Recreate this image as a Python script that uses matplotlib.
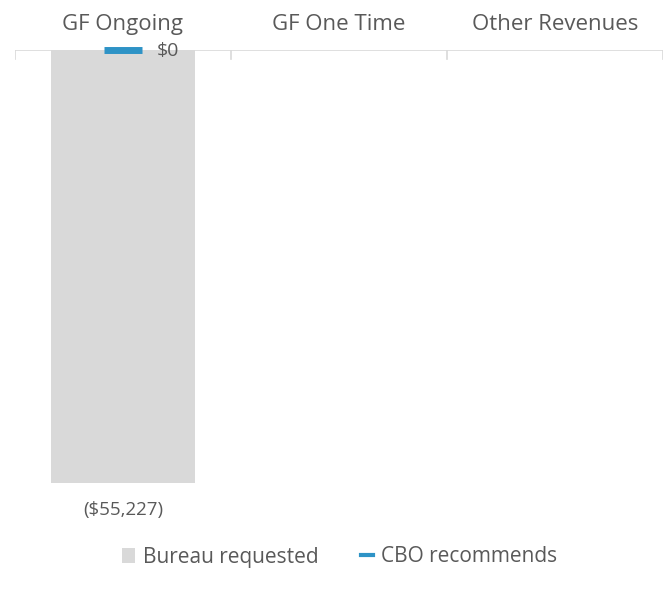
import numpy as np
import matplotlib.pyplot as plt
from matplotlib.lines import Line2D
from matplotlib.patches import Patch

categories = ["GF Ongoing", "GF One Time", "Other Revenues"]
bureau_requested = [-55227, 0, 0]
cbo_recommends = [0, None, None]
bureau_labels = ["($55,227)", "", ""]
cbo_labels = ["$0", "", ""]

grey = "#d9d9d9"
blue = "#2e93c6"
text_col = "#595959"
plt.rcParams["font.family"] = ["Open Sans", "DejaVu Sans"]

fig = plt.figure(figsize=(6.68, 6.13), dpi=100)
ax = fig.add_axes([15 / 668, 1 - 520 / 613, 648 / 668, 470 / 613])

x = np.arange(len(categories))
ax.bar(x, bureau_requested, width=0.67, color=grey, zorder=1)

# CBO recommends: short dash markers
for i, v in enumerate(cbo_recommends):
    if v is None:
        continue
    ax.plot([i - 0.09, i + 0.09], [v, v], color=blue, lw=5, solid_capstyle="butt",
            zorder=3, clip_on=False)
    ax.text(i + 0.155, v - 100, cbo_labels[i], color=text_col, fontsize=14, va="center", ha="left")

for i, v in enumerate(bureau_requested):
    if bureau_labels[i]:
        ax.text(i, v - 2400, bureau_labels[i], color=text_col, fontsize=13.5, va="top", ha="center")

ax.set_xlim(-0.5, len(categories) - 0.5)
ax.set_ylim(-60000, 0)

# axis line along zero at the top, with category dividers
ax.axhline(0, color=grey, lw=1.2, zorder=2)
for b in np.arange(-0.5, len(categories), 1.0):
    ax.plot([b, b], [0, -1100], color=grey, lw=1.2, zorder=2)

for sp in ax.spines.values():
    sp.set_visible(False)
ax.set_yticks([])
ax.xaxis.tick_top()
ax.set_xticks(x)
ax.set_xticklabels(categories, fontsize=16, color=text_col)
ax.tick_params(axis="x", length=0, pad=11)

handles = [Patch(facecolor=grey, edgecolor="none", label="Bureau requested"),
           Line2D([0], [0], color=blue, lw=3, label="CBO recommends")]
fig.legend(handles=handles, loc="center", bbox_to_anchor=(340 / 668, 1 - 557 / 613),
           ncol=2, frameon=False, fontsize=15, labelcolor=text_col,
           handlelength=0.6, handletextpad=0.4, columnspacing=2.0)

fig.savefig("out.png", dpi=100)
